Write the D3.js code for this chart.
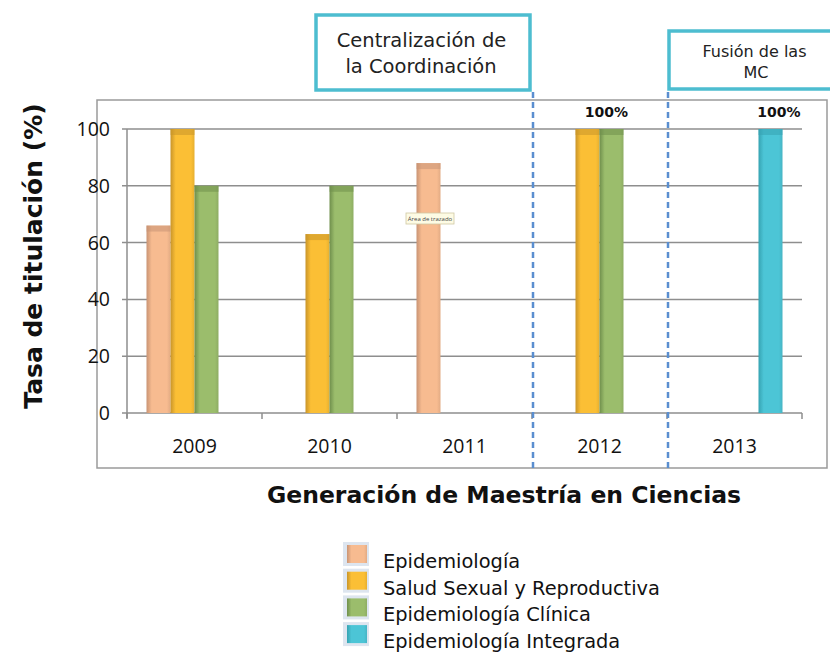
<!DOCTYPE html>
<html>
<head>
<meta charset="utf-8">
<script src="https://cdn.jsdelivr.net/npm/d3@7"></script>
<style>
  body { margin: 0; background: #fff; }
  svg { display: block; }
</style>
</head>
<body>
<div id="chart"></div>
<script>
// Tasa de titulación por generación

// Data
const years = ["2009", "2010", "2011", "2012", "2013"];
const series = ["Epidemiología", "Salud Sexual y Reproductiva", "Epidemiología Clínica", "Epidemiología Integrada"];
const epidemiologia = [66, null, 88, null, null];
const saludSexual = [100, 63, null, 100, null];
const epiClinica = [80, 80, null, 100, null];
const epiIntegrada = [null, null, null, null, 100];
const yTicks = [0, 20, 40, 60, 80, 100];
const topLabels = [{year: "2012", text: "100%"}, {year: "2013", text: "100%"}];

// Colors
const colors = ["#f7bb90", "#fbbf35", "#9bbd6c", "#4cc5d6"];
const dark = ["#c99474", "#c9952a", "#6f8f4c", "#36a3b2"];
const colorGrid = "#8e8e8e";
const colorDash = "#5a8ed0";
const colorBox = "#4dbdd0";
const font = "'DejaVu Sans', sans-serif";
const fontNum = "'Open Sans', sans-serif";

const values = [epidemiologia, saludSexual, epiClinica, epiIntegrada];
const bars = [];
years.forEach((yr, i) => values.forEach((vals, s) => {
  if (vals[i] != null) bars.push({year: yr, s, value: vals[i]});
}));

const width = 830, height = 660;
const plotLeft = 127, plotRight = 802, plotTop = 129, plotBottom = 413;

const svg = d3.select("#chart").append("svg")
    .attr("width", width).attr("height", height)
    .style("font-family", font);

// gradients for the cylinder look
const defs = svg.append("defs");
colors.forEach((c, i) => {
  const g = defs.append("linearGradient").attr("id", "g" + i);
  g.append("stop").attr("offset", "0%").attr("stop-color", dark[i]);
  g.append("stop").attr("offset", "22%").attr("stop-color", c);
  g.append("stop").attr("offset", "85%").attr("stop-color", c);
  g.append("stop").attr("offset", "100%").attr("stop-color", d3.color(c).darker(0.25));
});

const x = d3.scaleBand().domain(years).range([plotLeft, plotRight]).padding(0);
const xs = d3.scaleBand().domain(d3.range(series.length))
    .range([19.5, x.bandwidth() - 19.5]).padding(0);
const y = d3.scaleLinear().domain([0, 100]).range([plotBottom, plotTop]);

// frame
svg.append("rect")
    .attr("x", 97).attr("y", 100).attr("width", 730).attr("height", 368)
    .attr("fill", "none").attr("stroke", "#9a9a9a").attr("stroke-width", 1.5);

// grid
svg.append("g")
  .selectAll("line")
  .data(yTicks)
  .join("line")
    .attr("x1", plotLeft - 5).attr("x2", plotRight)
    .attr("y1", d => y(d)).attr("y2", d => y(d))
    .attr("stroke", colorGrid).attr("stroke-width", 1.5);

// y axis
svg.append("line")
    .attr("x1", plotLeft).attr("x2", plotLeft).attr("y1", plotTop).attr("y2", plotBottom + 5)
    .attr("stroke", colorGrid).attr("stroke-width", 1.5);
svg.append("g")
  .selectAll("text")
  .data(yTicks)
  .join("text")
    .attr("x", 110).attr("y", d => y(d))
    .attr("dy", "0.36em")
    .attr("text-anchor", "end")
    .attr("font-family", fontNum)
    .attr("font-size", 19.5)
    .attr("fill", "#111")
    .text(d => d);

// x ticks
svg.append("g")
  .selectAll("line")
  .data(years.map(d => x(d)).concat([plotRight]))
  .join("line")
    .attr("x1", d => d).attr("x2", d => d)
    .attr("y1", plotBottom).attr("y2", plotBottom + 6)
    .attr("stroke", colorGrid).attr("stroke-width", 1.5);
svg.append("g")
  .selectAll("text")
  .data(years)
  .join("text")
    .attr("x", d => x(d) + x.bandwidth() / 2)
    .attr("y", 453)
    .attr("text-anchor", "middle")
    .attr("font-family", fontNum)
    .attr("font-size", 19.5)
    .attr("fill", "#111")
    .text(d => d);

// bars
const bar = svg.append("g")
  .selectAll("g")
  .data(bars)
  .join("g");
bar.append("rect")
    .attr("x", d => x(d.year) + xs(d.s))
    .attr("y", d => y(d.value))
    .attr("width", xs.bandwidth())
    .attr("height", d => plotBottom - y(d.value))
    .attr("fill", d => `url(#g${d.s})`);
bar.append("rect")
    .attr("x", d => x(d.year) + xs(d.s))
    .attr("y", d => y(d.value))
    .attr("width", xs.bandwidth())
    .attr("height", 6)
    .attr("fill", d => dark[d.s])
    .attr("opacity", 0.55);

// dashed separators
svg.append("g")
  .selectAll("line")
  .data(["2012", "2013"])
  .join("line")
    .attr("x1", d => x(d) + 1).attr("x2", d => x(d) + 1)
    .attr("y1", 92).attr("y2", 470)
    .attr("stroke", colorDash).attr("stroke-width", 2.5)
    .attr("stroke-dasharray", "6,4");

// 100% labels
svg.append("g")
  .selectAll("text")
  .data(topLabels)
  .join("text")
    .attr("x", d => x(d.year) + (d.year === "2012" ? 74.5 : 112))
    .attr("y", 117)
    .attr("text-anchor", "middle")
    .attr("font-weight", "bold")
    .attr("font-size", 14)
    .attr("fill", "#111")
    .text(d => d.text);

// tooltip artefact
svg.append("rect")
    .attr("x", 406).attr("y", 213).attr("width", 48).attr("height", 11)
    .attr("fill", "#fdfbe4").attr("stroke", "#cfc9a4").attr("stroke-width", 0.8);
svg.append("text")
    .attr("x", 430).attr("y", 221)
    .attr("text-anchor", "middle")
    .attr("font-family", fontNum)
    .attr("font-size", 6)
    .attr("fill", "#444")
    .text("Área de trazado");

// annotation boxes
svg.append("rect")
    .attr("x", 316).attr("y", 15).attr("width", 214).attr("height", 75)
    .attr("fill", "#fff").attr("stroke", colorBox).attr("stroke-width", 3.5);
svg.append("text")
    .attr("x", 421.5).attr("y", 47)
    .attr("text-anchor", "middle").attr("font-size", 19.5).attr("fill", "#222")
    .text("Centralización de");
svg.append("text")
    .attr("x", 421).attr("y", 73)
    .attr("text-anchor", "middle").attr("font-size", 19.5).attr("fill", "#222")
    .text("la Coordinación");

svg.append("rect")
    .attr("x", 669).attr("y", 31).attr("width", 180).attr("height", 58)
    .attr("fill", "#fff").attr("stroke", colorBox).attr("stroke-width", 3.5);
svg.append("text")
    .attr("x", 754.5).attr("y", 57)
    .attr("text-anchor", "middle").attr("font-size", 16).attr("fill", "#222")
    .text("Fusión de las");
svg.append("text")
    .attr("x", 756).attr("y", 78)
    .attr("text-anchor", "middle").attr("font-size", 16).attr("fill", "#222")
    .text("MC");

// axis titles
svg.append("text")
    .attr("transform", "translate(42,256) rotate(-90)")
    .attr("text-anchor", "middle")
    .attr("font-weight", "bold")
    .attr("font-size", 25)
    .attr("fill", "#111")
    .text("Tasa de titulación (%)");
svg.append("text")
    .attr("x", 504).attr("y", 503)
    .attr("text-anchor", "middle")
    .attr("font-weight", "bold")
    .attr("font-size", 23.5)
    .attr("fill", "#111")
    .text("Generación de Maestría en Ciencias");

// legend
const legend = svg.append("g")
  .selectAll("g")
  .data(series)
  .join("g")
    .attr("transform", (d, i) => `translate(343,${542 + i * 26.7})`);
legend.append("rect")
    .attr("width", 26).attr("height", 24)
    .attr("fill", "#dde5ef");
legend.append("rect")
    .attr("x", 4).attr("y", 3).attr("width", 20).attr("height", 18)
    .attr("fill", (d, i) => `url(#g${i})`);
legend.append("text")
    .attr("x", 40).attr("y", 26)
    .attr("font-size", 19.4)
    .attr("fill", "#111")
    .text(d => d);
</script>
</body>
</html>
